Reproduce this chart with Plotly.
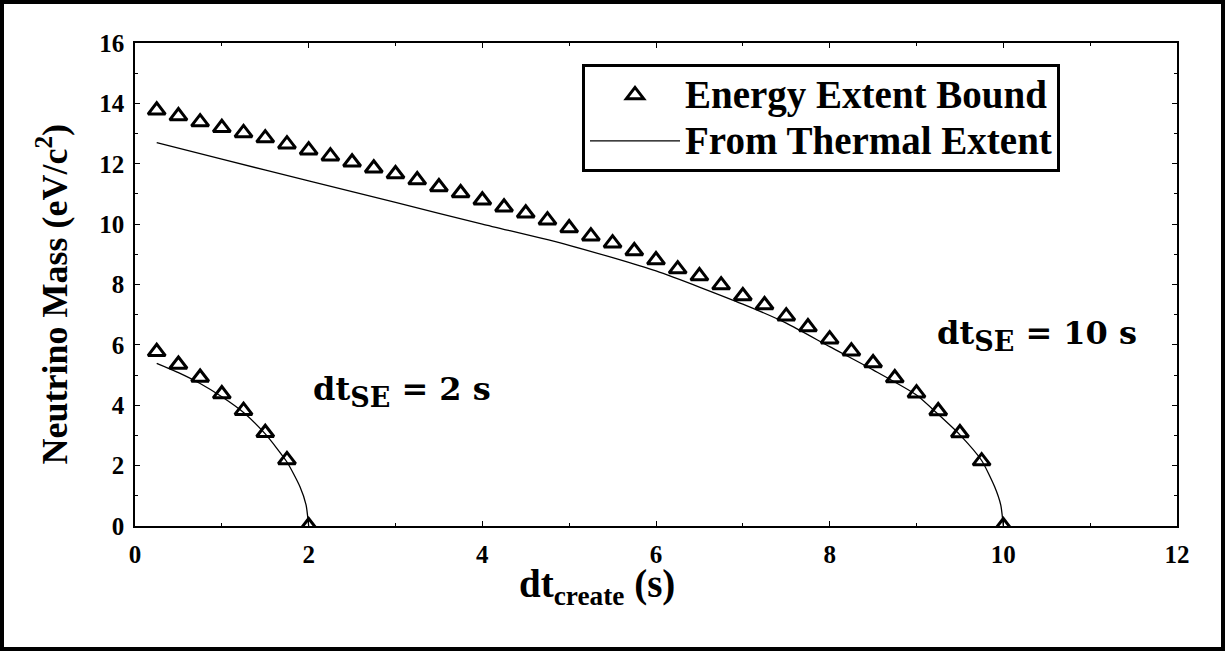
import plotly.graph_objects as go

# ---- data ----
x_bound_10 = [0.25, 0.5, 0.75, 1.0, 1.25, 1.5, 1.75, 2.0, 2.25, 2.5, 2.75, 3.0, 3.25, 3.5,
              3.75, 4.0, 4.25, 4.5, 4.75, 5.0, 5.25, 5.5, 5.75, 6.0, 6.25, 6.5, 6.75, 7.0,
              7.25, 7.5, 7.75, 8.0, 8.25, 8.5, 8.75, 9.0, 9.25, 9.5, 9.75, 10.0]
y_bound_10 = [13.77, 13.58, 13.38, 13.19, 13.02, 12.85, 12.65, 12.45, 12.25, 12.05, 11.85,
              11.66, 11.46, 11.23, 11.03, 10.79, 10.56, 10.36, 10.13, 9.87, 9.60, 9.37,
              9.11, 8.81, 8.51, 8.28, 7.98, 7.62, 7.32, 6.95, 6.59, 6.19, 5.79, 5.40,
              4.90, 4.40, 3.81, 3.08, 2.15, 0.0]

x_bound_2 = [0.25, 0.5, 0.75, 1.0, 1.25, 1.5, 1.75, 2.0]
y_bound_2 = [5.77, 5.35, 4.92, 4.37, 3.82, 3.09, 2.19, 0.0]

x_thermal_10 = [0.25, 1.0, 2.0, 3.0, 4.0, 5.0, 6.0, 7.0, 7.5, 8.0, 8.5, 9.0, 9.25, 9.5,
                9.75, 9.9, 9.97, 10.0]
y_thermal_10 = [12.70, 12.15, 11.43, 10.72, 10.0, 9.3, 8.45, 7.35, 6.72, 5.94, 5.17, 4.34,
                3.7, 3.02, 2.17, 1.3, 0.7, 0.0]

x_thermal_2 = [0.25, 0.5, 0.75, 1.0, 1.25, 1.5, 1.75, 1.9, 1.97, 2.0]
y_thermal_2 = [5.39, 5.08, 4.72, 4.28, 3.76, 3.05, 2.12, 1.3, 0.7, 0.0]

x_ticks = [0, 2, 4, 6, 8, 10, 12]
y_ticks = [0, 2, 4, 6, 8, 10, 12, 14, 16]

name_bound = "Energy Extent Bound"
name_thermal = "From Thermal Extent"

SERIF = "Liberation Serif"
WIDE = "DejaVu Serif"

def legend_label(s):
    return "<span style='font-size:39px'>" + s + "</span>"

fig = go.Figure()

marker_style = dict(symbol="triangle-up-open", size=15, color="black",
                    line=dict(color="black", width=3))

fig.add_trace(go.Scatter(x=x_bound_10, y=y_bound_10, mode="markers",
                         name=legend_label(name_bound), marker=marker_style,
                         legendgroup="b", cliponaxis=True))
fig.add_trace(go.Scatter(x=x_bound_2, y=y_bound_2, mode="markers",
                         name=legend_label(name_bound), marker=marker_style,
                         legendgroup="b", showlegend=False, cliponaxis=True))
fig.add_trace(go.Scatter(x=x_thermal_10, y=y_thermal_10, mode="lines",
                         name=legend_label(name_thermal),
                         line=dict(color="black", width=1.3, shape="spline", smoothing=0.6),
                         legendgroup="t"))
fig.add_trace(go.Scatter(x=x_thermal_2, y=y_thermal_2, mode="lines",
                         name=legend_label(name_thermal),
                         line=dict(color="black", width=1.3, shape="spline", smoothing=0.6),
                         legendgroup="t", showlegend=False))

axis_common = dict(showline=True, linecolor="black", linewidth=1.5, mirror="allticks",
                   ticks="inside", ticklen=5, tickwidth=1, tickcolor="black",
                   showgrid=False, zeroline=False,
                   tickfont=dict(family=SERIF, size=25, color="black", weight="bold"))

fig.update_xaxes(range=[0, 12], tickvals=x_ticks, ticktext=[str(v) for v in x_ticks],
                 ticklabelstandoff=5,
                 minor=dict(dtick=1, ticks="inside", ticklen=3, tickcolor="black", showgrid=False),
                 **axis_common)
fig.update_yaxes(range=[0, 16], tickvals=y_ticks, ticktext=[str(v) for v in y_ticks],
                 ticklabelstandoff=4,
                 minor=dict(dtick=1, ticks="inside", ticklen=3, tickcolor="black", showgrid=False),
                 **axis_common)

L, R, T, B = 135, 48, 43, 125
W, H = 1225, 651
pw, ph = W - L - R, H - T - B

def px_x(p):
    return (p - L) / pw

def px_y(p):
    return (H - B - p) / ph

annotations = [
    dict(text="<b>Neutrino Mass (eV/c<sup>2</sup>)</b>", xref="paper", yref="paper",
         x=px_x(27), y=px_y(294), textangle=-90, showarrow=False,
         font=dict(family=SERIF, size=36, color="black")),
    dict(text="<b>dt<sub>create</sub> (s)</b>", xref="paper", yref="paper",
         x=px_x(597), y=px_y(613), showarrow=False,
         font=dict(family=SERIF, size=39, color="black")),
    dict(text="<b>dt<sub><span style='font-size:27px'>SE</span></sub> = 2 s</b>",
         x=3.08, y=4.44, showarrow=False,
         font=dict(family=WIDE, size=32, color="black")),
    dict(text="<b>dt<sub><span style='font-size:27px'>SE</span></sub> = 10 s</b>",
         x=10.39, y=6.32, showarrow=False,
         font=dict(family=WIDE, size=32, color="black")),
]

fig.update_layout(
    width=W, height=H,
    margin=dict(l=L, r=R, t=T, b=B, pad=0),
    paper_bgcolor="white", plot_bgcolor="white",
    annotations=annotations,
    showlegend=True,
    legend=dict(x=px_x(582), y=px_y(64), xanchor="left", yanchor="top",
                bgcolor="white", bordercolor="black", borderwidth=3,
                font=dict(family=SERIF, size=33, color="black", weight="bold"),
                itemwidth=90, tracegroupgap=0),
    shapes=[dict(type="rect", xref="paper", yref="paper",
                 x0=px_x(2), x1=px_x(1223), y0=px_y(649), y1=px_y(2),
                 line=dict(color="black", width=4), fillcolor="rgba(0,0,0,0)", layer="above")],
)

fig.write_html("out.html", config={"displayModeBar": False},
               post_script="document.body.style.margin='0';document.body.style.overflow='hidden';")
